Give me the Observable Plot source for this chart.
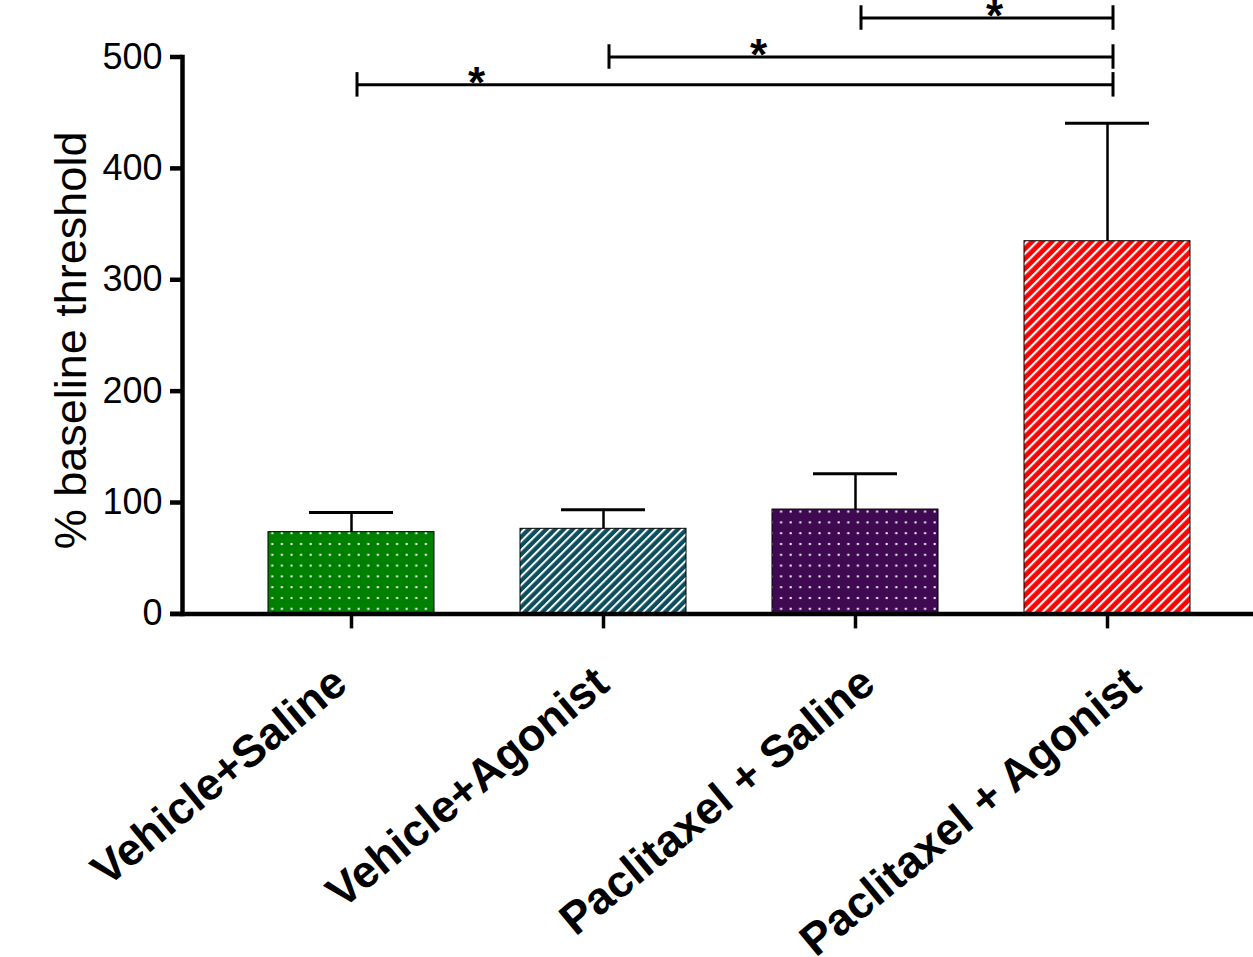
<!DOCTYPE html>
<html>
<head>
<meta charset="utf-8">
<script src="https://cdn.jsdelivr.net/npm/d3@7"></script>
<script src="https://cdn.jsdelivr.net/npm/@observablehq/plot@0.6"></script>
<style>
html, body { margin: 0; padding: 0; background: #fff; overflow: hidden; }
#chart svg { display: block; }
</style>
</head>
<body>
<svg width="0" height="0" style="position:absolute">
  <defs>
    <pattern id="dotsGreen" patternUnits="userSpaceOnUse" width="9.6" height="10.8">
      <rect width="9.6" height="10.8" fill="#008000"/>
      <rect x="2.5" y="3" width="2" height="2" fill="#ffffff"/>
    </pattern>
    <pattern id="hatchTeal" patternUnits="userSpaceOnUse" width="6.2" height="6.2" patternTransform="rotate(45)">
      <rect width="6.2" height="6.2" fill="#0b4f5f"/>
      <rect width="2" height="6.2" fill="#ffffff"/>
    </pattern>
    <pattern id="dotsPurple" patternUnits="userSpaceOnUse" width="9.6" height="10.8">
      <rect width="9.6" height="10.8" fill="#3f0a52"/>
      <rect x="2.5" y="3" width="2" height="2" fill="#ffffff"/>
    </pattern>
    <pattern id="hatchRed" patternUnits="userSpaceOnUse" width="7" height="7" patternTransform="rotate(45)">
      <rect width="7" height="7" fill="#ff0000"/>
      <rect width="2.2" height="7" fill="#ffffff"/>
    </pattern>
  </defs>
</svg>
<div id="chart"></div>
<script>
// ---- data ----
const groups = ["Vehicle+Saline", "Vehicle+Agonist", "Paclitaxel + Saline", "Paclitaxel + Agonist"];
const means = [73.4, 76.4, 93.7, 334.6];
const sems = [17.6, 17.1, 32.1, 106];
const yTicks = [0, 100, 200, 300, 400, 500];
const yLabel = "% baseline threshold";
const compFrom = ["Vehicle+Saline", "Vehicle+Agonist", "Paclitaxel + Saline"];
const compTo = ["Paclitaxel + Agonist", "Paclitaxel + Agonist", "Paclitaxel + Agonist"];
const compY = [475, 500, 535];
const compMark = ["*", "*", "*"];

// ---- style ----
const fills = ["url(#dotsGreen)", "url(#hatchTeal)", "url(#dotsPurple)", "url(#hatchRed)"];
const starShift = [125, 155, 139];
const labelShift = [-2, 8, 22, 36];

const data = groups.map((g, i) => ({group: g, mean: means[i], sem: sems[i]}));
const brackets = compFrom.map((f, i) => ({from: f, to: compTo[i], y: compY[i], mark: compMark[i]}));
const ends = brackets.flatMap(b => [{x: b.from, y: b.y}, {x: b.to, y: b.y}]);

const chart = Plot.plot({
  width: 1253,
  height: 957,
  marginTop: 56.5,
  marginBottom: 343.6,
  marginLeft: 182,
  marginRight: 0,
  style: {fontFamily: "'Liberation Sans', Arial, sans-serif", fontSize: "36px", color: "#000", background: "#fff"},
  x: {domain: groups, range: [182, 1276], padding: 0.34},
  y: {domain: [0, 500]},
  color: {domain: groups, range: fills},
  marks: [
    Plot.barY(data, {x: "group", y: "mean", fill: "group", stroke: "#000", strokeWidth: 1}),
    Plot.ruleX(data, {x: "group", y1: "mean", y2: d => d.mean + d.sem, stroke: "#000", strokeWidth: 2.5}),
    Plot.tickY(data, {x: "group", y: d => d.mean + d.sem, stroke: "#000", strokeWidth: 3, inset: 41}),
    Plot.axisY({ticks: yTicks, tickSize: 12, tickPadding: 8, strokeWidth: 4.5, fontSize: 36, label: null}),
    Plot.frame({anchor: "left", stroke: "#000", strokeWidth: 4.5}),
    Plot.ruleY([0], {stroke: "#000", strokeWidth: 4.5, insetLeft: -12}),
    Plot.axisX({tickSize: 15, strokeWidth: 3.5, tickFormat: () => "", label: null}),
    ...groups.map((g, i) => Plot.text([g], {x: d => d, frameAnchor: "bottom", rotate: -39.5, textAnchor: "end", lineAnchor: "bottom", dx: labelShift[i], dy: 74, fontSize: 45, fontWeight: "bold", fill: "#000"})),
    Plot.text([yLabel], {frameAnchor: "left", textAnchor: "middle", rotate: -90, dx: -110.5, dy: 5, fontSize: 45, fill: "#000"}),
    Plot.ruleY(brackets, {x1: "from", x2: "to", y: "y", stroke: "#000", strokeWidth: 3, insetLeft: 89, insetRight: 77}),
    Plot.ruleX(ends, {x: "x", y1: d => d.y - 11, y2: d => d.y + 11, stroke: "#000", strokeWidth: 3, dx: 5.5}),
    ...brackets.map((b, i) => Plot.text([b], {x: "from", y: "y", text: "mark", dx: starShift[i], dy: -1, fontSize: 44, fontWeight: "bold", fill: "#000"}))
  ]
});
document.getElementById("chart").appendChild(chart);
</script>
</body>
</html>
